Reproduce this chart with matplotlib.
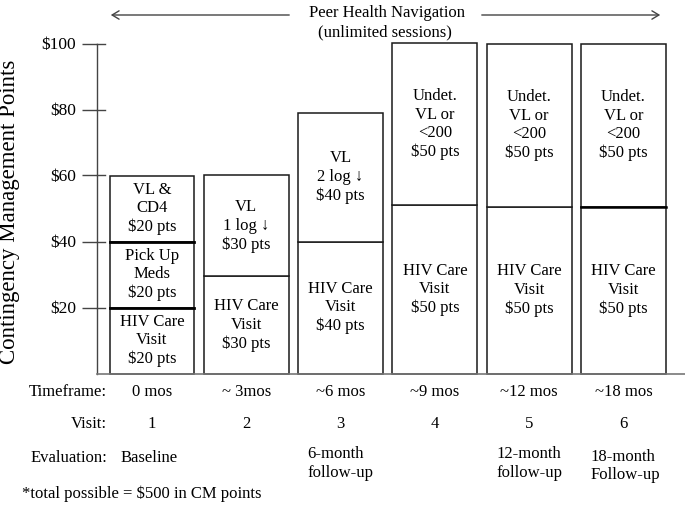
import matplotlib
matplotlib.use("Agg")
import matplotlib.pyplot as plt
from matplotlib.patches import FancyArrowPatch
import matplotlib.transforms as mtransforms

plt.rcParams['font.family'] = ['Liberation Serif', 'DejaVu Serif']

# ---- data ----
visits = ["1", "2", "3", "4", "5", "6"]
timeframes = ["0 mos", "~ 3mos", "~6 mos", "~9 mos", "~12 mos", "~18 mos"]
evaluations = ["Baseline", "", "6-month\nfollow-up", "", "12-month\nfollow-up", "18-month\nFollow-up"]
seg_values = [
    [20, 20, 20],
    [29.5, 30.5],
    [40, 39],
    [51, 49],
    [50.5, 49.5],
    [50.5, 49.5],
]
seg_labels = [
    ["HIV Care\nVisit\n$20 pts", "Pick Up\nMeds\n$20 pts", "VL &\nCD4\n$20 pts"],
    ["HIV Care\nVisit\n$30 pts", "VL\n1 log \u2193\n$30 pts"],
    ["HIV Care\nVisit\n$40 pts", "VL\n2 log \u2193\n$40 pts"],
    ["HIV Care\nVisit\n$50 pts", "Undet.\nVL or\n<200\n$50 pts"],
    ["HIV Care\nVisit\n$50 pts", "Undet.\nVL or\n<200\n$50 pts"],
    ["HIV Care\nVisit\n$50 pts", "Undet.\nVL or\n<200\n$50 pts"],
]
yticks = [20, 40, 60, 80, 100]
ytick_labels = ["$20", "$40", "$60", "$80", "$100"]

W, H = 685, 512
fig = plt.figure(figsize=(W / 100, H / 100), dpi=100)

def fx(px):
    return px / W

def fy(py):
    return 1 - py / H

FS = 12
LS = 1.2

# axes geometry (pixels)
ax_l, ax_r, ax_b, ax_t = 97, 685, 373.5, 43.5
ax = fig.add_axes([fx(ax_l), fy(ax_b), fx(ax_r - ax_l), (ax_b - ax_t) / H])
c0, step = 152.0, 94.3
ax.set_xlim((ax_l - c0) / step, (ax_r - c0) / step)
ax.set_ylim(0, 100)

edge = '#1a1a1a'
for i, (vals, labs) in enumerate(zip(seg_values, seg_labels)):
    bottom = 0
    for j, (v, lab) in enumerate(zip(vals, labs)):
        ax.bar(i, v, bottom=bottom, width=0.9, color='white', edgecolor=edge,
               linewidth=1.1, zorder=2, clip_on=False)
        ax.text(i, bottom + v / 2, lab, ha='center', va='center', fontsize=FS,
                linespacing=LS, zorder=3)
        bottom += v

# thicker internal boundaries (bar 1 and bar 6)
b = 0
for v in seg_values[0][:-1]:
    b += v
    ax.plot([-0.45, 0.45], [b, b], color='#000', lw=2, zorder=4)
b6 = seg_values[5][0]
ax.plot([5 - 0.45, 5 + 0.45], [b6, b6], color='#000', lw=1.8, zorder=4)

for s in ('top', 'right'):
    ax.spines[s].set_visible(False)
ax.spines['left'].set_color('#444')
ax.spines['bottom'].set_color('#777')
ax.spines['left'].set_linewidth(1.0)
ax.spines['bottom'].set_linewidth(1.2)
ax.set_xticks([])
ax.set_yticks(yticks)
ax.set_yticklabels(ytick_labels, fontsize=12.5)
ax.tick_params(axis='y', direction='out', length=11, width=1.0, color='#444', pad=4)
# inner part of the ticks
trans = mtransforms.blended_transform_factory(ax.transAxes, ax.transData)
for yv in yticks:
    ax.plot([0, 8 / (ax_r - ax_l)], [yv, yv], transform=trans, color='#444', lw=1.0,
            zorder=1, clip_on=False)
ax.patch.set_alpha(0)

fig.text(fx(10), fy(212), "Contingency Management Points", rotation=90,
         ha='center', va='center', fontsize=16.5)

# bottom rows
centers_px = [c0 + step * i for i in range(6)]
fig.text(fx(107), fy(392), "Timeframe:", ha='right', va='center', fontsize=FS)
fig.text(fx(107), fy(424), "Visit:", ha='right', va='center', fontsize=FS)
fig.text(fx(107), fy(458), "Evaluation:", ha='right', va='center', fontsize=FS)
for i, (tf, vs, ev) in enumerate(zip(timeframes, visits, evaluations)):
    cx = centers_px[i]
    fig.text(fx(cx), fy(392), tf, ha='center', va='center', fontsize=FS)
    fig.text(fx(cx), fy(424), vs, ha='center', va='center', fontsize=FS)
    if ev:
        if i == 0:
            fig.text(fx(121), fy(458), ev, ha='left', va='center', fontsize=FS)
        else:
            yy = 466 if i == 5 else 463.5
            fig.text(fx(cx - 33), fy(yy), ev, ha='left', va='center', fontsize=FS,
                     linespacing=LS)
fig.text(fx(22), fy(494), "*total possible = $500 in CM points", ha='left', va='center', fontsize=FS)

# top arrow
fig.text(fx(387), fy(13), "Peer Health Navigation", ha='center', va='center', fontsize=FS)
fig.text(fx(385), fy(32), "(unlimited sessions)", ha='center', va='center', fontsize=FS)
for x1, x2 in ((292, 108), (479, 663)):
    arr = FancyArrowPatch((fx(x1), fy(15)), (fx(x2), fy(15)), transform=fig.transFigure,
                          arrowstyle='->,head_length=5,head_width=3', color='#444',
                          lw=1.0, mutation_scale=1)
    fig.patches.append(arr)

fig.savefig("out.png", dpi=100)
